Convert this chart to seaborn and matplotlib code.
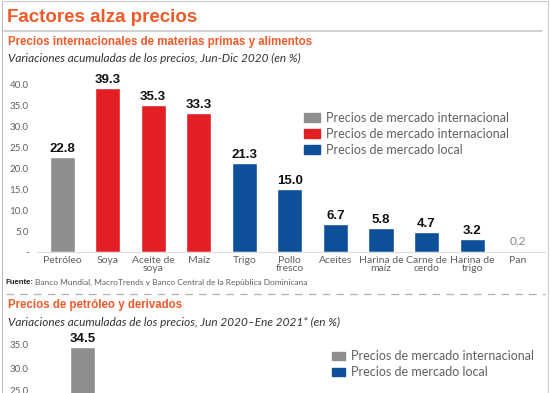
import matplotlib
matplotlib.use("Agg")
import matplotlib.pyplot as plt
import matplotlib.patches as mpatches
from matplotlib.lines import Line2D
import seaborn as sns
import pandas as pd

# top chart data
categorias = ["Petróleo", "Soya", "Aceite de\nsoya", "Maíz", "Trigo", "Pollo\nfresco",
              "Aceites", "Harina de\nmaíz", "Carne de\ncerdo", "Harina de\ntrigo", "Pan"]
valores = [22.8, 39.3, 35.3, 33.3, 21.3, 15.0, 6.7, 5.8, 4.7, 3.2, 0.2]
grupos = ["petroleo", "intl", "intl", "intl", "local", "local", "local", "local", "local", "local", "local"]

# bottom chart data (only the first bar is visible)
categorias2 = ["Petróleo"]
valores2 = [34.5]
grupos2 = ["petroleo"]
ticks2 = [25, 30, 35]

colores = {"petroleo": "#8d8e90", "intl": "#e31e25", "local": "#0d4f99"}
etiquetas = {"petroleo": "Precios de mercado internacional",
             "intl": "Precios de mercado internacional",
             "local": "Precios de mercado local"}
naranja = "#f05a28"
gris_txt = "#5f6062"
negrita = ["Liberation Sans Narrow", "Liberation Sans", "DejaVu Sans"]

sns.set_style("white")
plt.rcParams["font.family"] = ["Lato", "DejaVu Sans"]

W, H = 550, 393
fig = plt.figure(figsize=(5.5, 3.93), dpi=100)


def fx(px):
    return px / W


def fy(py):
    return 1 - py / H


# frame and separators
fig.add_artist(Line2D([fx(2), fx(2)], [0, fy(1)], color="#bbbbbb", lw=0.8))
fig.add_artist(Line2D([fx(2), fx(548)], [fy(1), fy(1)], color="#cccccc", lw=0.8))
fig.add_artist(Line2D([fx(548), fx(548)], [0, fy(1)], color="#cccccc", lw=0.8))
fig.add_artist(Line2D([fx(4), fx(542)], [fy(31), fy(31)], color="#c8c8c8", lw=1.2))
fig.add_artist(Line2D([fx(6), fx(545)], [fy(294), fy(294)], color="#b0b0b0", lw=0.9,
                      linestyle=(0, (6, 5))))

# texts
fig.text(fx(7), fy(17), "Factores alza precios", fontsize=13.5, fontweight="bold",
         family=negrita, color=naranja, va="center")
fig.text(fx(8), fy(42), "Precios internacionales de materias primas y alimentos", fontsize=8.3,
         fontweight="bold", family=negrita, color=naranja, va="center")
fig.text(fx(8), fy(58), "Variaciones acumuladas de los precios, Jun-Dic 2020 (en %)", fontsize=8.5,
         style="italic", color="#333333", va="center")
fig.text(fx(5), fy(282), "Fuente:", fontsize=5.6, fontweight="bold", family=negrita,
         color="#222222", va="center")
fig.text(fx(35), fy(282), "Banco Mundial, MacroTrends y Banco Central de la República Dominicana",
         fontsize=6, color=gris_txt, va="center")
fig.text(fx(8), fy(305), "Precios de petróleo y derivados", fontsize=8.3, fontweight="bold",
         family=negrita, color=naranja, va="center")
fig.text(fx(8), fy(322), "Variaciones acumuladas de los precios, Jun 2020\u2013Ene 2021* (en %)",
         fontsize=8.5, style="italic", color="#333333", va="center")

# ---- top chart ----
df = pd.DataFrame({"cat": categorias, "val": valores, "grp": grupos})
ax = fig.add_axes([fx(37), fy(252), fx(545) - fx(37), fy(76) - fy(252)])
sns.barplot(data=df, x="cat", y="val", hue="grp", palette=colores, dodge=False,
            width=0.55, saturation=1, legend=False, ax=ax)
ax.set_ylim(0, 42.15)
ax.set_xlim(-0.55, 10.6)
ax.set_yticks(range(0, 45, 5))
ax.set_yticklabels(["-"] + [f"{v:.1f}" for v in range(5, 45, 5)])
ax.tick_params(axis="y", length=0, labelsize=7, labelcolor=gris_txt, pad=6)
ax.tick_params(axis="x", length=0, labelsize=7.5, labelcolor=gris_txt, pad=3)
for t in ax.get_xticklabels():
    t.set_linespacing(0.85)
ax.set_xlabel("")
ax.set_ylabel("")
for s in ["top", "right", "left"]:
    ax.spines[s].set_visible(False)
ax.spines["bottom"].set_color("#dddddd")
ax.patch.set_alpha(0)

for i, v in enumerate(valores):
    if v < 1:
        ax.text(i, v + 0.9, f"{v:.1f}", ha="center", va="bottom", fontsize=8.5, color="#888888")
    else:
        ax.text(i, v + 0.5, f"{v:.1f}", ha="center", va="bottom", fontsize=9.5,
                fontweight="bold", family=negrita, color="#111111")

h1 = [mpatches.Patch(color=colores[g]) for g in ["petroleo", "intl", "local"]]
ax.legend(h1, [etiquetas[g] for g in ["petroleo", "intl", "local"]], loc="upper left",
          bbox_to_anchor=(fx(304), fy(112)), bbox_transform=fig.transFigure, frameon=False,
          fontsize=9, handlelength=1.3, handleheight=0.75, labelspacing=0.3, handletextpad=0.5,
          borderpad=0, borderaxespad=0, labelcolor=gris_txt)

# ---- bottom chart (cut off by the crop) ----
df2 = pd.DataFrame({"cat": categorias2, "val": valores2, "grp": grupos2})
base = 506
ax2 = fig.add_axes([fx(37), fy(base), fx(545) - fx(37), fy(330) - fy(base)])
sns.barplot(data=df2, x="cat", y="val", hue="grp", palette=colores, dodge=False,
            width=0.55, saturation=1, legend=False, ax=ax2)
ax2.set_ylim(0, (base - 330) / 4.6)
ax2.set_xlim(-1.0, 10.2)
ax2.set_yticks(ticks2)
ax2.set_yticklabels([f"{v:.1f}" for v in ticks2])
ax2.tick_params(axis="y", length=0, labelsize=7, labelcolor=gris_txt, pad=6)
ax2.set_xticks([])
ax2.set_xlabel("")
ax2.set_ylabel("")
for s in ["top", "right", "left", "bottom"]:
    ax2.spines[s].set_visible(False)
ax2.patch.set_alpha(0)
for i, v in enumerate(valores2):
    ax2.text(i, v + 0.5, f"{v:.1f}", ha="center", va="bottom", fontsize=9.5,
             fontweight="bold", family=negrita, color="#111111")

h2 = [mpatches.Patch(color=colores[g]) for g in ["petroleo", "local"]]
ax2.legend(h2, [etiquetas[g] for g in ["petroleo", "local"]], loc="upper left",
           bbox_to_anchor=(fx(332), fy(350)), bbox_transform=fig.transFigure, frameon=False,
           fontsize=9, handlelength=1.0, handleheight=0.6, labelspacing=0.35, handletextpad=0.5,
           borderpad=0, borderaxespad=0, labelcolor=gris_txt)

fig.savefig("out.png", dpi=100)
